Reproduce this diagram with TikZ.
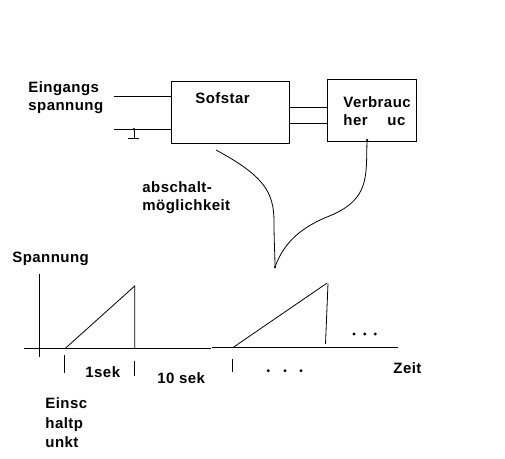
\documentclass[tikz,border=0pt]{standalone}
\usepackage{fontspec}
\setmainfont{Liberation Sans}[LetterSpace=3]
\begin{document}
\begin{tikzpicture}[x=1pt,y=-1pt,line width=0.8pt,
  lbl/.style={font=\fontsize{15}{18}\selectfont\bfseries, inner sep=0pt, anchor=base west},
  blk/.style={draw, inner sep=0pt},
  pt/.style={circle, fill, inner sep=0pt, minimum size=3pt},
  sdot/.style={circle, fill, inner sep=0pt, minimum size=3.2pt}]
\useasboundingbox (0,0) rectangle (505,458);
% boxes
\node[blk, minimum width=118pt, minimum height=62pt] (sof) at (230,112) {};
\node[blk, minimum width=89pt, minimum height=62pt] (verb) at (371.5,110) {};
% labels
\node[lbl] (t1) at (28,92) {Eingangs};
\node[lbl] (t2) at (28,110) {spannung};
\node[lbl] (tsof) at (195,103) {Sofstar};
\node[lbl] (tv1) at (343,107) {Verbrauc};
\node[lbl] (tv2) at (343,125) {her};
\node[lbl] (tv3) at (387,125) {uc};
\node[lbl] (ta1) at (142,192) {abschalt-};
\node[lbl] (ta2) at (142,210) {möglichkeit};
\node[lbl] (tsp) at (12,262) {Spannung};
\node[lbl] (t1s) at (85,377) {1sek};
\node[lbl] (t10) at (157,383) {10 sek};
\node[lbl] (tz) at (393,373) {Zeit};
\node[lbl] (te1) at (45,408) {Einsc};
\node[lbl] (te2) at (45,428) {haltp};
\node[lbl] (te3) at (45,447) {unkt};
% input lines
\coordinate (in1) at (114,96);
\coordinate (in2) at (114,129);
\draw (in1) -- (in1 -| sof.west);
\draw (in2) -- (in2 -| sof.west);
% ground
\node[pt, minimum size=2.5pt] (gd) at (134,129) {};
\coordinate (gb) at (134,138);
\draw (gd.center) -- (gb);
\draw ([xshift=-6pt]gb) -- ([xshift=5pt]gb);
% lines between boxes
\coordinate (c1) at (289,107);
\coordinate (c2) at (289,123);
\draw (c1 -| sof.east) -- (c1 -| verb.west);
\draw (c2 -| sof.east) -- (c2 -| verb.west);
% curves
\coordinate (s1) at (216,150);
\node[pt, minimum size=2.5pt] (vd) at (367,140) {};
\node[pt, minimum size=2.5pt] (cusp) at (275,267) {};
\draw (s1) .. controls (264,176) and (274,192) .. (274,222) .. controls (274,242) and (275,255) .. (cusp.center);
\draw (vd.center) .. controls (366,178) and (370,200) .. (327,217) .. controls (295,230) and (282,248) .. (cusp.center);
% graph axes
\coordinate (ya) at (39,274);
\coordinate (yb) at (39,357);
\draw (ya) -- (yb);
\coordinate (xa) at (24,348);
\coordinate (xm) at (211,348);
\coordinate (xn) at (212,347.3);
\coordinate (xb) at (398,347.3);
\draw (xa) -- (xm);
\draw (xn) -- (xb);
% ramp 1
\coordinate (r1a) at (65.7,348);
\coordinate (r1b) at (134.7,286);
\draw (r1a) -- (r1b) -- (134.7,348);
% ramp 2
\coordinate (r2a) at (233.3,347.3);
\coordinate (r2b) at (326.7,283.3);
\draw (r2a) -- (r2b);
\draw (328,283.3) -- (325.5,344);
% ticks
\draw (64.3,355) -- (64.3,373);
\draw (134.7,360.7) -- (134.7,376);
\draw (232.3,359) -- (232.3,371.7);
% dots
\node[sdot] (d1) at (354,334) {};
\node[sdot] (d2) at (364.7,334) {};
\node[sdot] (d3) at (375.3,334) {};
\node[sdot] (d4) at (268.3,370.7) {};
\node[sdot] (d5) at (285,370.7) {};
\node[sdot] (d6) at (301,370.7) {};
\end{tikzpicture}
\end{document}
